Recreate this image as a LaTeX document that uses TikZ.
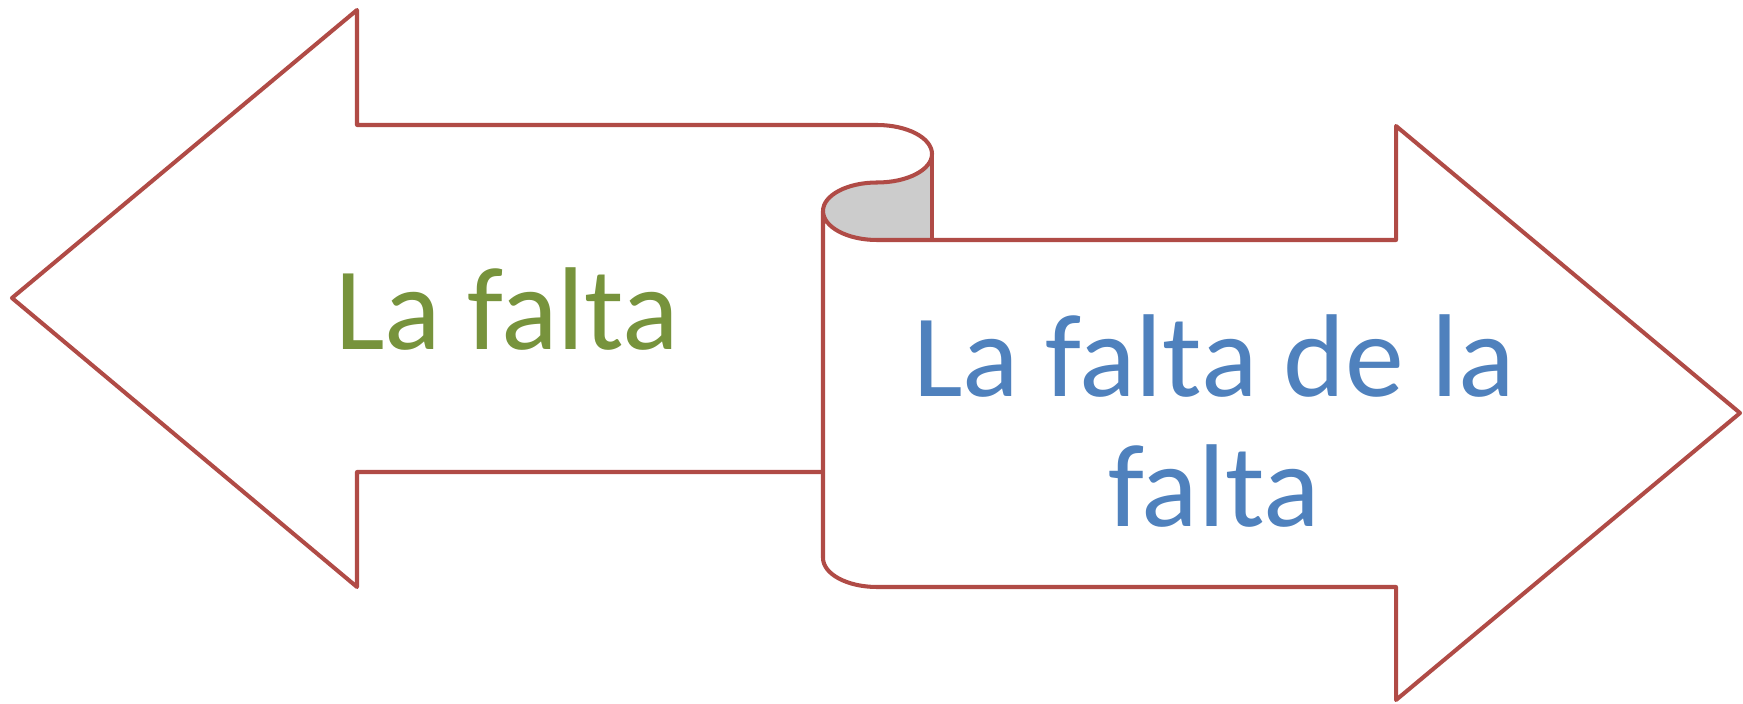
\documentclass[tikz,border=0pt]{standalone}
\usepackage{fontspec}
\setmainfont{Carlito}
\begin{document}
\begin{tikzpicture}[x = 0.01cm, y = 0.01cm, line width = 1.15pt, line join = round]
			\definecolor{scrollRed}{HTML}{B04B46}
			\definecolor{scrollGreen}{HTML}{77933C}
			\definecolor{scrollBlue}{HTML}{4F81BD}
			\tikzset{outline/.style = {draw = scrollRed}, label/.style = {inner sep = 0pt, font = \fontsize{33.5}{37.2}\selectfont}}
			\useasboundingbox (0,0) rectangle (1743,703);
			
			% inside of the curl
			\fill[black!20] (932,549) arc[start angle = 0, end angle = -90, x radius = 55, y radius = 28.5]
				arc[start angle = 90, end angle = 180, x radius = 54, y radius = 28.5]
				arc[start angle = 180, end angle = 270, x radius = 54, y radius = 29] -- (932,463) -- cycle;
			
			% left arrow
			\draw[outline] (823,231) -- (357,231) -- (357,116) -- (12,405) -- (357,693) -- (357,578) -- (877,578)
				arc[start angle = 90, end angle = 0, x radius = 55, y radius = 29]
				arc[start angle = 0, end angle = -90, x radius = 55, y radius = 28.5]
				arc[start angle = 90, end angle = 180, x radius = 54, y radius = 28.5];
			
			% right arrow
			\draw[outline] (823,492) -- (823,145)
				arc[start angle = 180, end angle = 270, x radius = 54, y radius = 29]
				-- (1396,116) -- (1396,3) -- (1740,290) -- (1396,577) -- (1396,463) -- (877,463)
				arc[start angle = 270, end angle = 180, x radius = 54, y radius = 29];
			\draw[outline] (932,549) -- (932,463);
			
			\node[label, text = scrollGreen, anchor = base west] (leftlabel) at (333,353) {La falta};
			\node[label, text = scrollBlue, anchor = base, align = center] (rightlabel) at (1214,176) {La falta de la\\ falta};
		\end{tikzpicture}
\end{document}
